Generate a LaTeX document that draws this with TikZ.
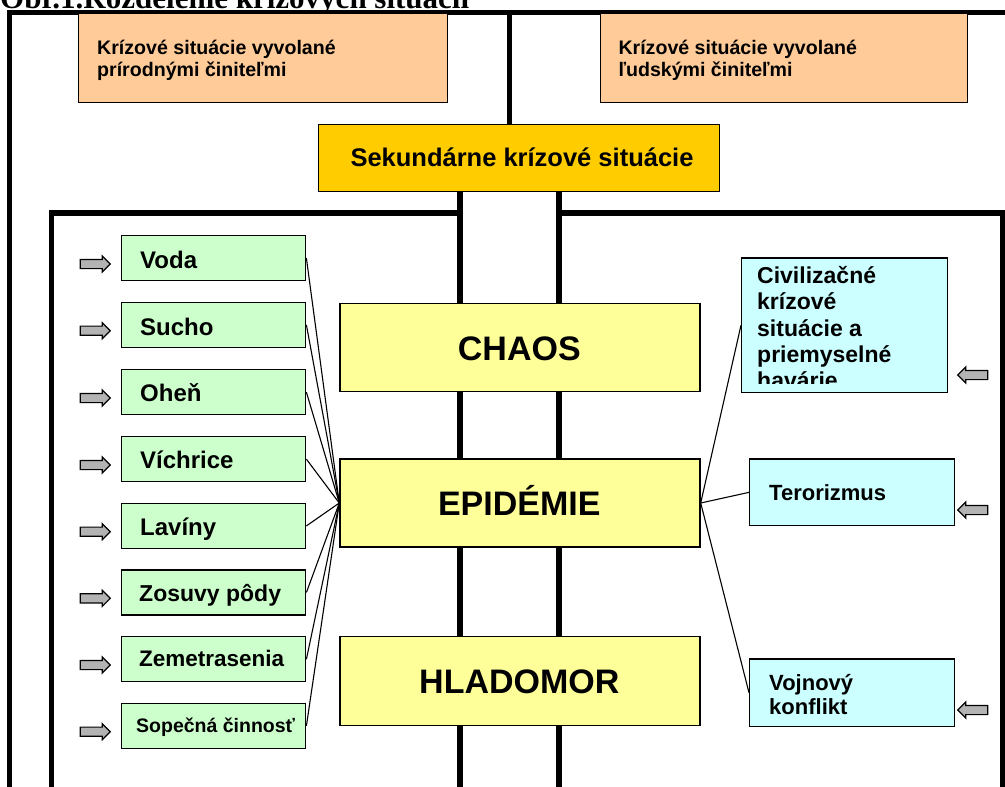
\documentclass[tikz,border=0pt]{standalone}
\usepackage{fontspec}
\setmainfont{Liberation Sans}
\newfontfamily\titlefont{Liberation Serif}
\usetikzlibrary{shapes.arrows}
\definecolor{orangefill}{HTML}{FFCC99}
\definecolor{goldfill}{HTML}{FFCC00}
\definecolor{yellowfill}{HTML}{FFFF99}
\definecolor{greenfill}{HTML}{CCFFCC}
\definecolor{cyanfill}{HTML}{CCFFFF}
\definecolor{arrowgray}{HTML}{B3B3B3}
\begin{document}
\begin{tikzpicture}[x=1pt,y=-1pt,
  frame/.style={line width=5.5pt, line join=miter},
  box/.style={draw=black, line width=1.4pt, rectangle, inner sep=0pt, anchor=north west},
  orangebox/.style={box, fill=orangefill},
  goldbox/.style={box, fill=goldfill},
  yellowbox/.style={box, fill=yellowfill},
  greenbox/.style={box, fill=greenfill},
  cyanbox/.style={box, fill=cyanfill},
  conn/.style={line width=1.1pt},
  garrow/.style={single arrow, draw=black, line width=1.2pt, fill=arrowgray, minimum height=30pt, inner sep=4pt, single arrow head extend=3.5pt},
  lbl/.style={anchor=base west, inner sep=0pt, font=\bfseries\fontsize{#1}{#1}\selectfont},
  ctr/.style={anchor=base, inner sep=0pt, font=\bfseries\fontsize{#1}{#1}\selectfont},
]
\useasboundingbox (0,0) rectangle (1005,787);

% title (partly cut off by the page edge)
\node[anchor=base west, inner sep=0pt, font=\titlefont\bfseries\fontsize{31}{31}\selectfont] (title) at (0,8.5) {Obr.1.Rozdelenie krízových situácií};

% frame lines
\draw[frame] (9.7,787) -- (9.7,12.5) -- (1005,12.5);
\draw[frame] (509.5,12.5) -- (509.5,124);
\draw[frame] (51.5,787) -- (51.5,213) -- (460,213);
\draw[frame] (460,190) -- (460,787);
\draw[frame] (559,190) -- (559,787);
\draw[frame] (559,213) -- (1002.5,213) -- (1002.5,787);

% top boxes
\node[orangebox, minimum width=369, minimum height=88.7] (nat) at (78,13) {};
\node[lbl=19.6] (natA) at (97,54) {Krízové situácie vyvolané};
\node[lbl=19.6] (natB) at (97,76) {prírodnými činiteľmi};
\node[orangebox, minimum width=366.7, minimum height=88.7] (hum) at (600,13) {};
\node[lbl=19.6] (humA) at (618.3,54) {Krízové situácie vyvolané};
\node[lbl=19.6] (humB) at (618.3,76) {ľudskými činiteľmi};

\node[goldbox, minimum width=401, minimum height=66.7] (sek) at (318,124) {};
\node[ctr=25.5] (sekT) at (522,166.7) {Sekundárne krízové situácie};

% central boxes
\node[yellowbox, minimum width=360, minimum height=88] (chaos) at (339.3,302.7) {};
\node[ctr=34] (chaosT) at (519.3,360) {CHAOS};
\node[yellowbox, minimum width=360, minimum height=88] (epi) at (339.3,458.3) {};
\node[ctr=34] (epiT) at (519.3,515) {EPIDÉMIE};
\node[yellowbox, minimum width=360, minimum height=89] (hlad) at (339.3,636) {};
\node[ctr=34] (hladT) at (519.3,693.3) {HLADOMOR};

% left column (natural)
\foreach \n/\t/\txt/\fs/\bo/\tx in {
  1/235/Voda/24/33.3/140,
  2/301.7/Sucho/24/33.3/140,
  3/369/Oheň/24/32.5/140,
  4/436/Víchrice/24/32.3/140,
  5/502.7/Lavíny/24/32.3/140,
  6/569.3/Zosuvy pôdy/23/32.3/139,
  7/636/Zemetrasenia/22.5/30.7/139,
  8/702.7/Sopečná činnosť/19.5/30/136}
{
  \node[greenbox, minimum width=184, minimum height=45] (g\n) at (121,\t) {};
  \node[lbl=\fs] (gt\n) at (\tx,{\t+\bo}) {\txt};
  \node[garrow] (ga\n) at (93,{\t+29}) {};
  \draw[conn] (g\n.east) -- (epi.west);
}

% right column (human)
\node[cyanbox, minimum width=205.7, minimum height=134.4] (c1) at (741,257.3) {};
\begin{scope}
  \clip (741,257.3) rectangle (946.7,383);
  \node[lbl=23] (c1a) at (757,283.3) {Civilizačné};
  \node[lbl=23] (c1b) at (757,309.6) {krízové};
  \node[lbl=23] (c1c) at (757,336) {situácie a};
  \node[lbl=23] (c1d) at (757,362.3) {priemyselné};
  \node[lbl=23] (c1e) at (757,388.6) {havárie};
\end{scope}
\node[cyanbox, minimum width=205, minimum height=66.7] (c2) at (749,458.3) {};
\node[lbl=22] (c2a) at (769,500) {Terorizmus};
\node[cyanbox, minimum width=205, minimum height=67.4] (c3) at (749,658.3) {};
\node[lbl=22] (c3a) at (769,690.7) {Vojnový};
\node[lbl=22] (c3b) at (769,714) {konflikt};

\node[garrow, shape border rotate=180] (ra1) at (975,375) {};
\node[garrow, shape border rotate=180] (ra2) at (975,510) {};
\node[garrow, shape border rotate=180] (ra3) at (975,710) {};

\draw[conn] (epi.east) -- (c1.west);
\draw[conn] (epi.east) -- (c2.west);
\draw[conn] (epi.east) -- (c3.west);
\end{tikzpicture}
\end{document}
